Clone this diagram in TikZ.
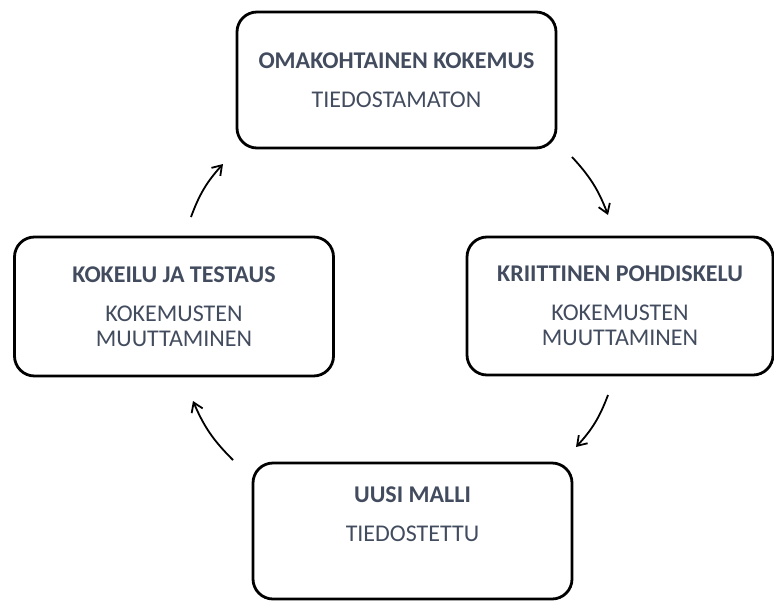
\documentclass[tikz,border=0pt]{standalone}
\usepackage{fontspec}
\setmainfont{Carlito}
\usepackage{xcolor}
\usepackage{tikz}
\usetikzlibrary{shapes,arrows.meta}
\definecolor{textgray}{RGB}{66,76,94}

\begin{document}
\begin{tikzpicture}[x=0.5pt,y=0.5pt,
  stage/.style={rectangle, draw, line width=1.4pt, rounded corners=10pt, align=center,
    text=textgray, font=\fontsize{12}{12.5}\selectfont, minimum width=159.5pt, minimum height=68pt},
  flow/.style={-{Straight Barb[length=4.5pt,width=6pt]}, line width=0.9pt, bend left=11}]
\useasboundingbox (0,0) rectangle (774,601);
\node (kokemus) [stage] at (396.5,521) {\textbf{OMAKOHTAINEN KOKEMUS}\\[7pt]TIEDOSTAMATON};
\node (pohdiskelu) [stage, minimum width=153pt, minimum height=69pt] at (620,295) {\textbf{KRIITTINEN POHDISKELU}\\[7pt]KOKEMUSTEN\\MUUTTAMINEN};
\node (malli) [stage] at (412.5,70) {\textbf{UUSI MALLI}\\[7pt]TIEDOSTETTU\\[4pt]\mbox{}};
\node (kokeilu) [stage, minimum height=69.5pt] at (174,294.5) {\textbf{KOKEILU JA TESTAUS}\\[7pt]KOKEMUSTEN\\MUUTTAMINEN};

\coordinate (k1) at (572,444);
\coordinate (p1) at (608,386);
\coordinate (p2) at (608,206);
\coordinate (m1) at (576,154);
\coordinate (m2) at (233,141);
\coordinate (t1) at (193,200);
\coordinate (t2) at (191,384);
\coordinate (k2) at (223,437);

\draw [flow] (k1) to (p1);
\draw [flow] (p2) to (m1);
\draw [flow] (m2) to (t1);
\draw [flow] (t2) to (k2);
\end{tikzpicture}
\end{document}
